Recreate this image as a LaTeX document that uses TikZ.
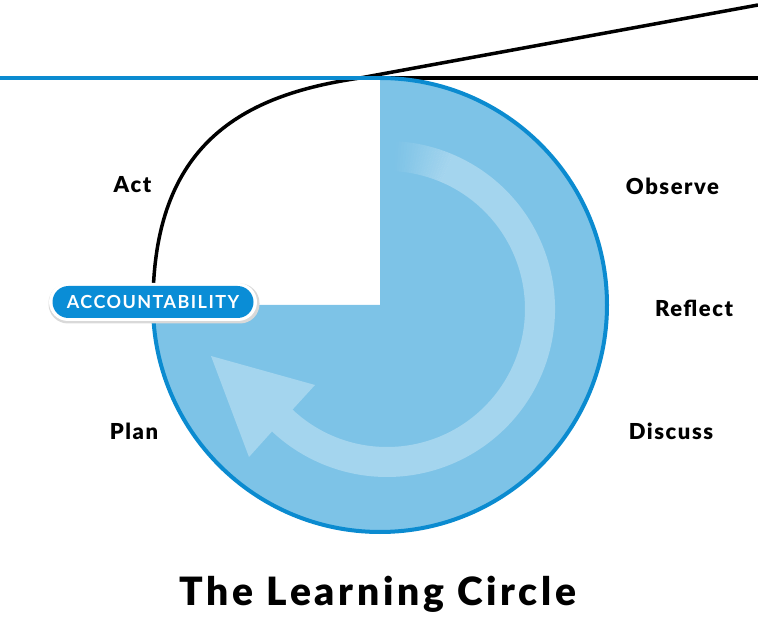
\documentclass[tikz,border=0pt]{standalone}
\usepackage{fontspec}
\setmainfont{Lato}
\IfFontExistsTF{Lato Black}{\newfontfamily\heavy{Lato Black}}{\newfontfamily\heavy{Lato}[FakeBold=1.2,BoldFont={Lato Bold}]}
\usetikzlibrary{calc}
\definecolor{fillblue}{HTML}{7DC3E7}
\definecolor{edgeblue}{HTML}{0B8BD0}
\definecolor{pillblue}{HTML}{0A8DD6}
\begin{document}
\begin{tikzpicture}[x=1pt,y=1pt,
  lbl/.style={font=\fontsize{22}{26}\selectfont\heavy\addfontfeatures{LetterSpace=7}, text=black, anchor=base},
  blk/.style={line width=3.5pt, black},
  bluestroke/.style={line width=4pt, edgeblue},
  bandfill/.style={fill=white, opacity=0.3},
]
\useasboundingbox (0,0) rectangle (758,638);
\coordinate (C) at (380,333);
\coordinate (T) at (380,560);
\coordinate (L) at (153,333);
\coordinate (W) at (0,560);
\coordinate (E) at (758,560);
\coordinate (S) at (360,560);
\coordinate (NE) at (758,633);
\coordinate (A) at (387,329);
\coordinate (tip) at (211,282);
\coordinate (barbA) at (249,181);
\coordinate (barbB) at (315,253);
% black lines
\draw[blk] (T) -- (E);
\draw[blk] (S) -- (NE);
\draw[blk] (L) .. controls (153,494) and (242,543) .. (S);
% blue horizontal line
\draw[bluestroke] (W) -- (T);
% three-quarter disc
\fill[fillblue] (C) -- (T) arc[start angle=90, end angle=-180, radius=227] -- cycle;
% circular arrow band
\fill[bandfill] ([shift={(67:168)}]A) arc[start angle=67, end angle=-133.2, radius=168]
  -- (barbA) -- (tip) -- (barbB)
  -- ([shift={(-133.2:138)}]A) arc[start angle=-133.2, end angle=67, radius=138] -- cycle;
\foreach \i in {0,...,19} {
  \pgfmathsetmacro\aS{87-\i}
  \pgfmathsetmacro\aE{86-\i}
  \pgfmathsetmacro\op{0.3*(\i+0.5)/20}
  \fill[white, opacity=\op] ([shift={(\aS:168)}]A) arc[start angle=\aS, end angle=\aE, radius=168]
    -- ([shift={(\aE:138)}]A) arc[start angle=\aE, end angle=\aS, radius=138] -- cycle;
}
% circle outline
\draw[bluestroke] (T) arc[start angle=90, end angle=-180, radius=227];
% pill
\node (pillshadow) [fill=black!15, rounded corners=19.5pt, minimum width=211pt, minimum height=40pt, inner sep=0pt] at (154,334.5) {};
\node (pillborder) [fill=white, rounded corners=19pt, minimum width=208pt, minimum height=38pt, inner sep=0pt] at (153,336) {};
\node (pill) [fill=pillblue, rounded corners=16pt, minimum width=201pt, minimum height=32pt, inner sep=0pt,
  text=white, font=\fontsize{18}{20}\selectfont\bfseries\addfontfeatures{LetterSpace=8}] at (153,336) {ACCOUNTABILITY};
% labels
\node[lbl] (act) at (132.5,445) {Act};
\node[lbl] (observe) at (672.5,443) {Observe};
\node[lbl] (reflect) at (694,321) {Reflect};
\node[lbl] (plan) at (134,199) {Plan};
\node[lbl] (discuss) at (671,199) {Discuss};
\node[font=\fontsize{39}{44}\selectfont\heavy\addfontfeatures{LetterSpace=9.5}, anchor=base] (title) at (378,33) {The Learning Circle};
\end{tikzpicture}
\end{document}
